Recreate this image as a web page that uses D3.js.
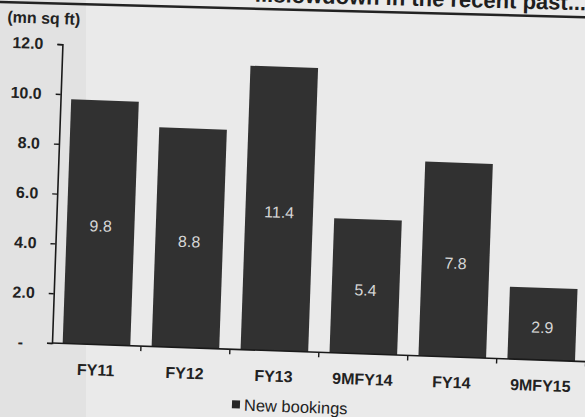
<!DOCTYPE html>
<html>
<head>
<meta charset="utf-8">
<script src="https://cdn.jsdelivr.net/npm/d3@7"></script>
<style>
  body { margin: 0; background: #e9e9e9; }
  svg { display: block; font-family: "Liberation Sans", Arial, sans-serif; }
</style>
</head>
<body>
<svg id="chart" width="585" height="417"></svg>
<script>
const categories = ["FY11", "FY12", "FY13", "9MFY14", "FY14", "9MFY15"];
const bookings = [9.8, 8.8, 11.4, 5.4, 7.8, 2.9];
const yTicks = [0, 2, 4, 6, 8, 10, 12];
const seriesName = "New bookings";
const unitLabel = "(mn sq ft)";
const titleText = "...slowdown in the recent past...";

const width = 585;
const height = 417;
const svg = d3.select("#chart");

// scanned page: paper tone, slightly darker margin on the left
svg.append("rect").attr("width", width).attr("height", height).attr("fill", "#eaeaea");
svg.append("rect").attr("width", 86).attr("height", height).attr("fill", "#e2e2e2");

// title strip, mostly cut off by the top of the scan
const head = svg.append("g").attr("transform", "rotate(1.5, 0, 2)");
head.append("text")
    .attr("x", 586)
    .attr("y", -5)
    .attr("text-anchor", "end")
    .attr("font-size", 22)
    .attr("font-weight", "bold")
    .attr("fill", "#1e1e1e")
    .text(titleText);
head.append("line")
    .attr("x1", -10).attr("x2", 620)
    .attr("y1", 2).attr("y2", 2)
    .attr("stroke", "#222")
    .attr("stroke-width", 2.5);

// the whole chart is tilted a little in the scan
const g = svg.append("g").attr("transform", "rotate(2, 52, 343)");

const x = d3.scaleBand()
    .domain(categories)
    .range([52, 52 + 6 * 89])
    .paddingInner(0.24)
    .paddingOuter(0.12);

const y = d3.scaleLinear()
    .domain([0, 12])
    .range([343, 44]);

g.selectAll("rect.bar")
    .data(bookings)
    .enter()
    .append("rect")
    .classed("bar", true)
    .attr("x", (d, i) => x(categories[i]))
    .attr("y", d => y(d))
    .attr("width", x.bandwidth())
    .attr("height", d => y(0) - y(d))
    .attr("fill", "#313131");

g.selectAll("text.value")
    .data(bookings)
    .enter()
    .append("text")
    .classed("value", true)
    .attr("x", (d, i) => x(categories[i]) + x.bandwidth() / 2)
    .attr("y", d => (y(d) + y(0)) / 2 + 9)
    .attr("text-anchor", "middle")
    .attr("font-size", 16)
    .attr("fill", "#d6d6d6")
    .text(d => d.toFixed(1));

// y axis
const yAxis = g.append("g")
    .attr("transform", `translate(52, 0)`)
    .call(
        d3.axisLeft(y)
            .tickValues(yTicks)
            .tickSize(5)
            .tickPadding(14)
            .tickFormat(d => (d === 0 ? "-" : d.toFixed(1)))
    );
yAxis.select(".domain").attr("stroke", "#1a1a1a").attr("stroke-width", 1.6);
yAxis.selectAll(".tick line").attr("stroke", "#1a1a1a").attr("stroke-width", 1.4);
yAxis.selectAll(".tick text")
    .attr("font-size", 16)
    .attr("font-weight", "bold")
    .attr("fill", "#222")
    .attr("font-family", "Liberation Sans, Arial, sans-serif")
    .attr("dx", d => (d === 0 ? -10 : 0));

// x axis with ticks between categories
const [x0, x1] = x.range();
g.append("line")
    .attr("x1", x0).attr("x2", x1)
    .attr("y1", y(0)).attr("y2", y(0))
    .attr("stroke", "#1a1a1a")
    .attr("stroke-width", 1.6);

g.selectAll("line.xtick")
    .data(d3.range(1, categories.length + 1))
    .enter()
    .append("line")
    .classed("xtick", true)
    .attr("x1", i => x0 + i * x.step())
    .attr("x2", i => x0 + i * x.step())
    .attr("y1", y(0))
    .attr("y2", y(0) + 5)
    .attr("stroke", "#1a1a1a")
    .attr("stroke-width", 1.4);

g.selectAll("text.cat")
    .data(categories)
    .enter()
    .append("text")
    .classed("cat", true)
    .attr("x", d => x(d) + x.bandwidth() / 2)
    .attr("y", y(0) + 31)
    .attr("text-anchor", "middle")
    .attr("font-size", 16)
    .attr("font-weight", "bold")
    .attr("fill", "#222")
    .text(d => d);

// unit label
g.append("text")
    .attr("x", -4)
    .attr("y", 24)
    .attr("font-size", 16)
    .attr("font-weight", "bold")
    .attr("fill", "#222")
    .text(unitLabel);

// legend
const legend = g.append("g").attr("transform", "translate(234, 404)");
legend.append("rect")
    .attr("x", 0).attr("y", -10)
    .attr("width", 8).attr("height", 8)
    .attr("fill", "#262626");
legend.append("text")
    .attr("x", 12)
    .attr("y", 0)
    .attr("font-size", 16.5)
    .attr("fill", "#222")
    .text(seriesName);
</script>
</body>
</html>
